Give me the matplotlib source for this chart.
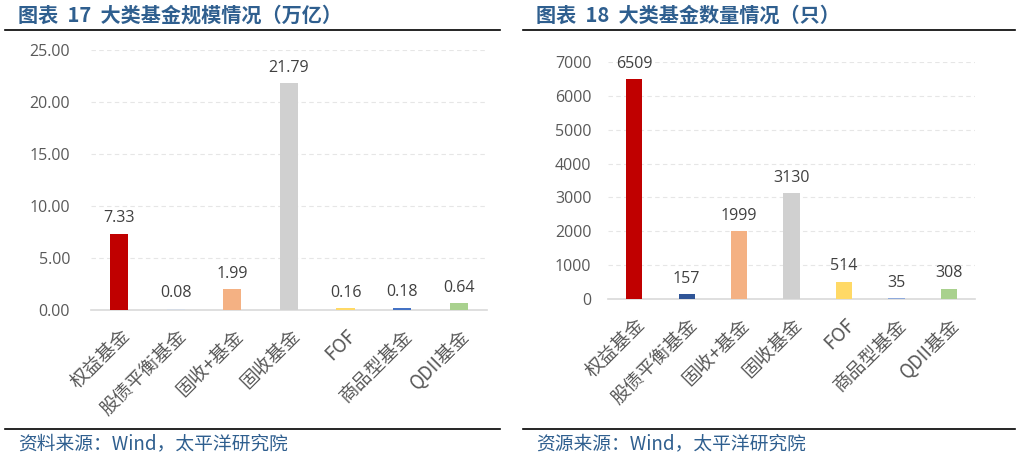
import numpy as np
import matplotlib.pyplot as plt
from matplotlib.lines import Line2D

plt.rcParams['font.family'] = ['Open Sans', 'Noto Sans CJK SC', 'DejaVu Sans']

categories = ['权益基金', '股债平衡基金', '固收+基金', '固收基金', 'FOF', '商品型基金', 'QDII基金']
scale_vals = [7.33, 0.08, 1.99, 21.79, 0.16, 0.18, 0.64]      # 万亿
count_vals = [6509, 157, 1999, 3130, 514, 35, 308]           # 只

colors_left = ['#C00000', '#D6DCE5', '#F4B183', '#D0D0D0', '#FFD966', '#4472C4', '#A9D18E']
colors_right = ['#C00000', '#2F5597', '#F4B183', '#D0D0D0', '#FFD966', '#8FAADC', '#A9D18E']

title_color = '#2F5F8F'
tick_color = '#595959'
cjk = ['Noto Sans CJK SC', 'DejaVu Sans']

fig = plt.figure(figsize=(10.21, 4.61), dpi=100)

def draw_panel(ax, vals, cols, yticks, fmt, width, ypad):
    x = np.arange(len(categories))
    ax.bar(x, vals, width=width, color=cols, zorder=3)
    ax.set_xlim(-0.5, len(categories) - 0.5)
    ax.set_ylim(yticks[0], yticks[-1])
    ax.set_yticks(yticks)
    ax.set_yticklabels([fmt.format(t) for t in yticks], color=tick_color, fontsize=11.5)
    ax.set_xticks(x)
    ax.set_xticklabels(categories, rotation=45, ha='right', rotation_mode='anchor',
                       color=tick_color, fontsize=13.5, family=cjk)
    ax.tick_params(axis='y', length=0, pad=ypad)
    ax.tick_params(axis='x', length=0, pad=11)
    ax.grid(axis='y', color='#E6E6E6', linestyle=(0, (4, 3)), linewidth=0.8, zorder=0)
    for s in ['top', 'right', 'left']:
        ax.spines[s].set_visible(False)
    ax.spines['bottom'].set_color('#D9D9D9')
    ax.spines['bottom'].set_linewidth(1.2)
    ymax = yticks[-1]
    for xi, v in zip(x, vals):
        ax.text(xi, v + ymax * 0.03, fmt.format(v) if isinstance(v, float) else str(v),
                ha='center', va='bottom', fontsize=11.5, color='#404040')

ax1 = fig.add_axes([0.089, 0.3275, 0.388, 0.564])
draw_panel(ax1, scale_vals, colors_left, [0, 5, 10, 15, 20, 25], '{:.2f}', 0.32, 15)

ax2 = fig.add_axes([0.5955, 0.3514, 0.3595, 0.5141])
draw_panel(ax2, count_vals, colors_right, [0, 1000, 2000, 3000, 4000, 5000, 6000, 7000], '{}', 0.31, 12)

# titles, rules, sources
fig.text(18 / 1021, 1 - 15 / 461, '图表  17  大类基金规模情况（万亿）', fontsize=14.5, fontweight='bold',
         color=title_color, va='center', ha='left', family=cjk)
fig.text(536 / 1021, 1 - 15 / 461, '图表  18  大类基金数量情况（只）', fontsize=14.5, fontweight='bold',
         color=title_color, va='center', ha='left', family=cjk)
for (xa, xb) in [(5, 500), (523, 1015)]:
    for yy in [30, 429]:
        fig.add_artist(Line2D([xa / 1021, xb / 1021], [1 - yy / 461] * 2, color='black', linewidth=1.2))
fig.text(18 / 1021, 1 - 444 / 461, '资料来源：Wind，太平洋研究院', fontsize=13.5,
         color=title_color, va='center', ha='left', family=cjk)
fig.text(536 / 1021, 1 - 444 / 461, '资源来源：Wind，太平洋研究院', fontsize=13.5,
         color=title_color, va='center', ha='left', family=cjk)

fig.savefig('out.png', dpi=100)
